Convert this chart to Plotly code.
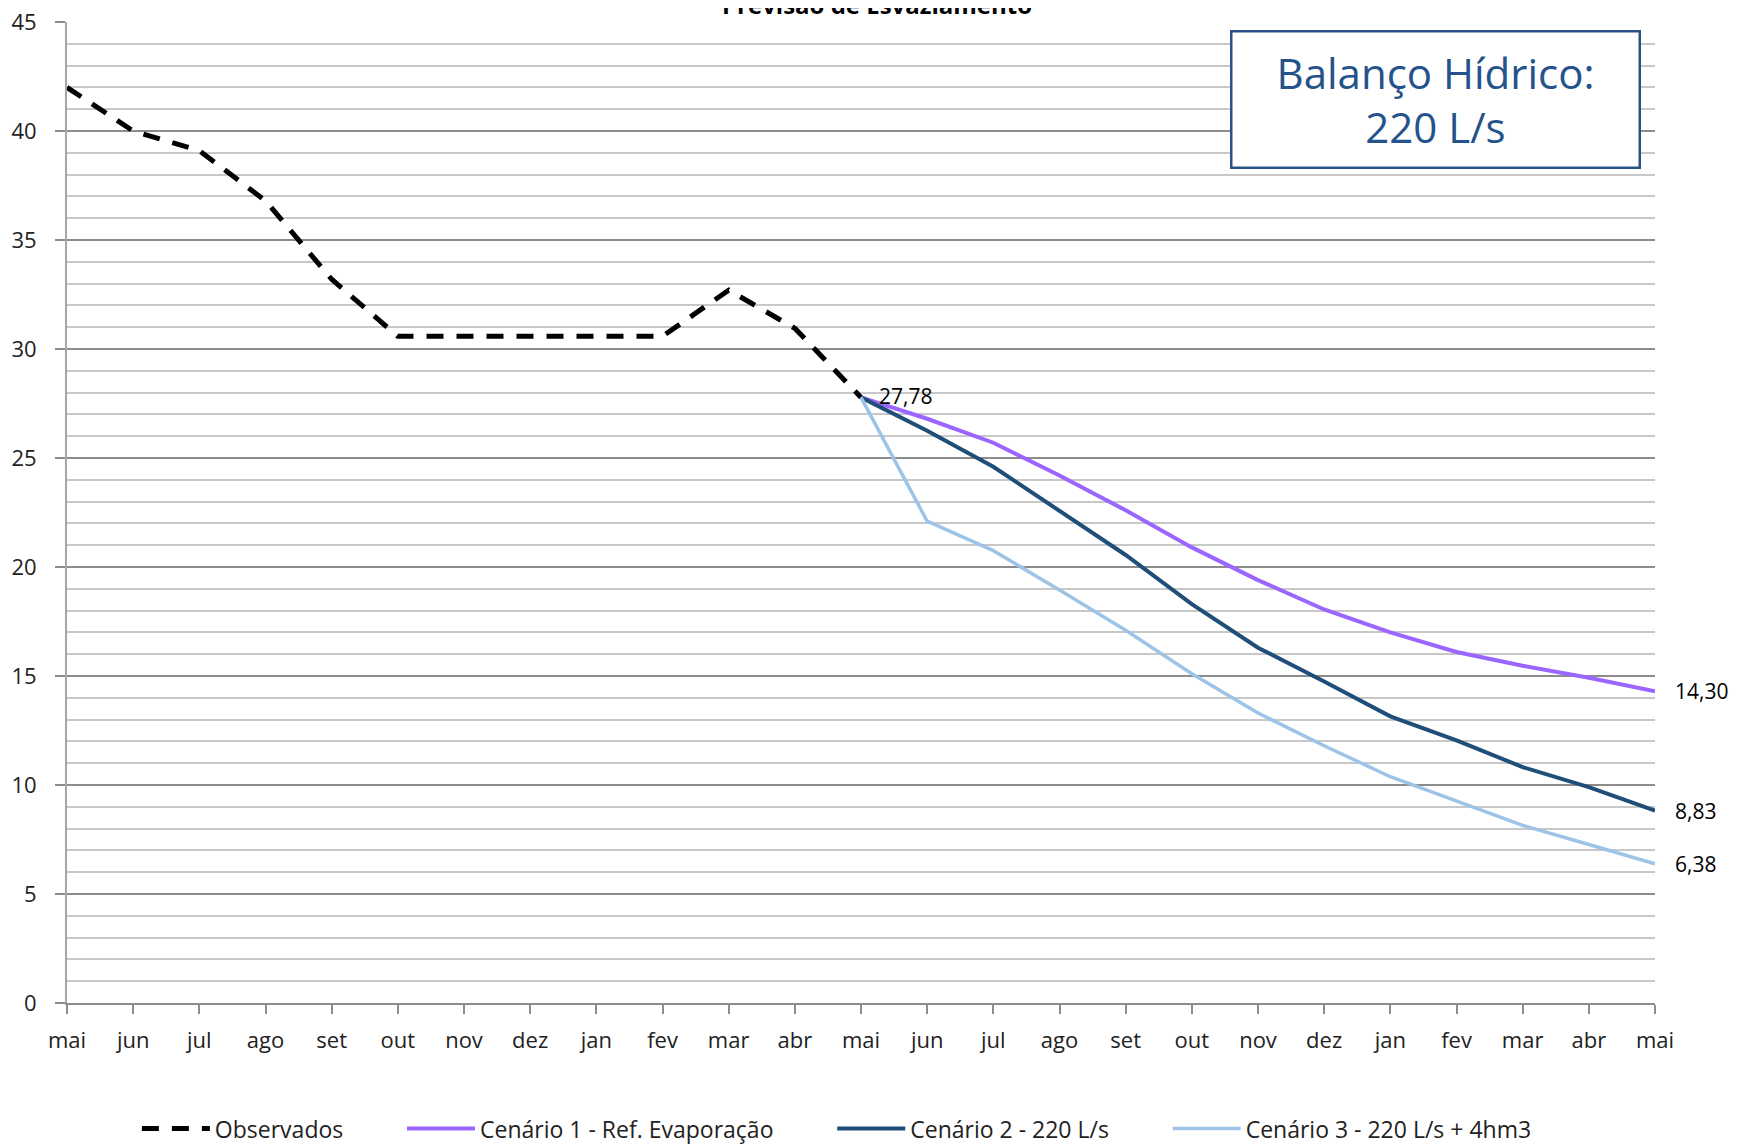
import plotly.graph_objects as go

months = ["mai", "jun", "jul", "ago", "set", "out", "nov", "dez", "jan", "fev", "mar", "abr",
          "mai", "jun", "jul", "ago", "set", "out", "nov", "dez", "jan", "fev", "mar", "abr", "mai"]

obs_idx = list(range(0, 13))
observados = [42.0, 40.0, 39.1, 36.8, 33.2, 30.58, 30.58, 30.58, 30.58, 30.58, 32.7, 30.95, 27.78]

cen_idx = list(range(12, 25))
cenario1 = [27.78, 26.8, 25.7, 24.2, 22.6, 20.9, 19.4, 18.05, 17.0, 16.1, 15.47, 14.92, 14.30]
cenario2 = [27.78, 26.25, 24.6, 22.6, 20.55, 18.3, 16.3, 14.75, 13.15, 12.05, 10.82, 9.9, 8.83]
cenario3 = [27.78, 22.1, 20.75, 18.95, 17.1, 15.1, 13.3, 11.8, 10.38, 9.25, 8.15, 7.27, 6.38]

names = ["Observados", "Cenário 1 - Ref. Evaporação", "Cenário 2 - 220 L/s", "Cenário 3 - 220 L/s + 4hm3"]
title_text = "Previsão de Esvaziamento"
box_text = "Balanço Hídrico:<br>220 L/s"

FONT = "Open Sans, Noto Sans, sans-serif"
NB = "\u00a0"

fig = go.Figure()
fig.add_trace(go.Scatter(x=obs_idx, y=observados, mode="lines", name=names[0] + NB * 9,
                         line=dict(color="black", width=5, dash="17px,13px")))
fig.add_trace(go.Scatter(x=cen_idx, y=cenario1, mode="lines", name=names[1] + NB * 9,
                         line=dict(color="#9B66FF", width=4)))
fig.add_trace(go.Scatter(x=cen_idx, y=cenario2, mode="lines", name=names[2] + NB * 9,
                         line=dict(color="#1F4E79", width=4)))
fig.add_trace(go.Scatter(x=cen_idx, y=cenario3, mode="lines", name=names[3],
                         line=dict(color="#9DC3E6", width=3.5)))

def fmt(v):
    return f"{v:.2f}".replace(".", ",")

annos = [
    dict(x=cen_idx[0], y=cenario1[0], text=fmt(cenario1[0]), xanchor="left", yanchor="middle",
         xshift=16, yshift=1, showarrow=False, font=dict(size=21, color="black", family=FONT)),
]
for series in (cenario1, cenario2, cenario3):
    annos.append(dict(x=cen_idx[-1], y=series[-1], text=fmt(series[-1]), xanchor="left",
                      yanchor="middle", xshift=18, showarrow=False,
                      font=dict(size=21, color="black", family=FONT)))

annos.append(dict(xref="paper", yref="paper", x=0.8615, y=0.9205, text=box_text,
                  showarrow=False, xanchor="center", yanchor="middle",
                  width=404, height=132, bgcolor="white", bordercolor="#2A5286", borderwidth=2.5,
                  font=dict(size=42, color="#24528A", family=FONT)))
annos.append(dict(xref="paper", yref="paper", x=0.51, y=1.0, yanchor="bottom", yshift=-1,
                  text="<b>" + title_text + "</b>", showarrow=False,
                  font=dict(size=24, color="black", family=FONT)))

fig.update_layout(
    width=1745, height=1139,
    margin=dict(l=59, r=98, t=14, b=144, autoexpand=False),
    paper_bgcolor="white", plot_bgcolor="white",
    font=dict(family=FONT, size=22, color="#222"),
    showlegend=True,
    legend=dict(orientation="h", x=0.044, xanchor="left", y=-0.128, yanchor="middle",
                font=dict(size=23, color="#222", family=FONT), itemwidth=68),
    annotations=annos,
)
fig.update_xaxes(
    range=[0, 24], tickvals=list(range(25)), ticktext=months,
    showgrid=False, zeroline=False, automargin=False, ticklabeloverflow="allow",
    showline=True, linecolor="#8c8c8c", linewidth=2,
    ticks="outside", ticklen=9, tickcolor="#8c8c8c", tickwidth=1.5,
    ticklabelstandoff=8, tickfont=dict(size=22, color="#222"),
)
fig.update_yaxes(
    range=[0, 45], dtick=5, tick0=0, automargin=False, ticklabeloverflow="allow",
    showgrid=True, gridcolor="#8c8c8c", gridwidth=2,
    zeroline=False, showline=True, linecolor="#a6a6a6", linewidth=2,
    ticks="outside", ticklen=10, tickcolor="#8c8c8c", tickwidth=1.5,
    ticklabelstandoff=14, tickfont=dict(size=22, color="#222"),
    minor=dict(dtick=1, showgrid=True, gridcolor="#c8c8c8", gridwidth=2, ticks=""),
)

fig.write_html("out.html")
